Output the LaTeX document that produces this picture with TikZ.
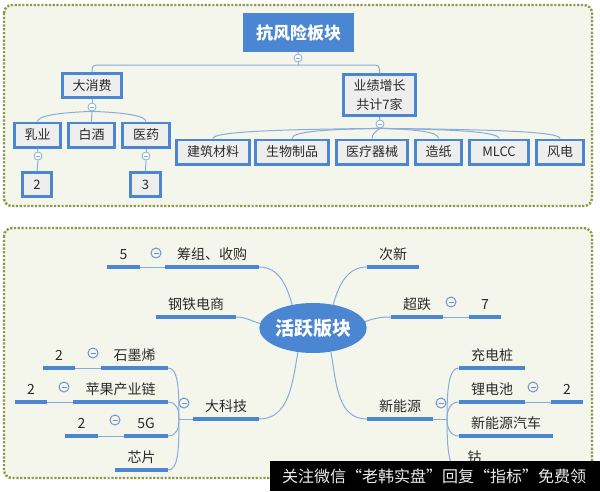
\documentclass[tikz,border=0pt]{standalone}
\usepackage{fontspec}
\setmainfont{Noto Sans CJK SC}
\usetikzlibrary{shapes.geometric}
\definecolor{panelfill}{HTML}{F4F6EC}
\definecolor{dotcol}{HTML}{8C9A45}
\definecolor{mblue}{HTML}{4A86D2}
\definecolor{lblue}{HTML}{86ACDB}
\definecolor{mcol}{HTML}{6F93CF}
\definecolor{boxfill}{HTML}{EEEEEE}
\definecolor{txt}{HTML}{2A2A2A}
\tikzset{
  panel/.style={draw=dotcol, fill=panelfill, line width=2.4pt, dash pattern=on 2.2pt off 1.6pt, rounded corners=8pt},
  tbox/.style={draw=mblue, line width=2.6pt, fill=boxfill, text=txt, font=\fontsize{13}{19}\selectfont, inner sep=0pt, minimum height=24.4pt},
  rootbox/.style={fill=mblue, text=white, font=\bfseries\fontsize{17}{19}\selectfont, inner sep=0pt, minimum width=111pt, minimum height=39pt},
  conn/.style={draw=lblue, line width=1pt},
  mcirc/.style={circle, draw=lblue, fill=white, line width=0.8pt, minimum size=8pt, inner sep=0pt,
    path picture={\draw[lblue,line width=0.8pt] ([xshift=-2pt]path picture bounding box.center) -- ([xshift=2pt]path picture bounding box.center);}},
  bmcirc/.style={circle, draw=mcol, fill=panelfill, line width=1pt, minimum size=10pt, inner sep=0pt,
    path picture={\draw[mcol,line width=1pt] ([xshift=-2.5pt]path picture bounding box.center) -- ([xshift=2.5pt]path picture bounding box.center);}},
  topic/.style={anchor=south, inner xsep=0pt, inner ysep=0pt, text height=12pt, text depth=7.5pt, text=txt, font=\fontsize{14}{16}\selectfont, minimum width=#1},
  uline/.style={draw=mblue, line width=3.5pt},
}
\begin{document}
\begin{tikzpicture}[x=1pt,y=-1pt]
\useasboundingbox (0,0) rectangle (600,491);
\fill[white] (0,0) rectangle (600,491);
% panels
\draw[panel] (4,5) rectangle (592,206);
\draw[panel] (4,228) rectangle (592,478);

% ---------- top tree ----------
\node[rootbox] (root) at (298.5,32.5) {抗风险板块};
\node[mcirc] (m0) at (298,58) {};
\draw[conn] (root.south) -- (m0.north);
\node[tbox, minimum width=59.4pt] (dxf) at (92,85.5) {大消费};
\node[tbox, minimum width=72.4pt, minimum height=41.4pt, align=center] (yj) at (379.5,95) {业绩增长\\共计7家};
\coordinate (h0) at (298,65);
\draw[conn] (m0.south) -- (h0);
\draw[conn, rounded corners=4pt] (dxf.north) |- (h0) -| (yj.north);

\node[mcirc] (m1) at (92,107) {};
\draw[conn] (dxf.south) -- (m1.north);
\node[tbox, minimum width=46.4pt] (ry) at (37.5,135) {乳业};
\node[tbox, minimum width=46.4pt] (bj) at (91.5,135) {白酒};
\node[tbox, minimum width=47.4pt] (yy) at (146,135) {医药};
\draw[conn] (m1.south) .. controls +(-30,1) and +(0,-6) .. (ry.north);
\draw[conn] (m1.south) -- (bj.north);
\draw[conn] (m1.south) .. controls +(30,1) and +(0,-6) .. (yy.north);

\node[mcirc] (m3) at (38,156) {};
\node[mcirc] (m4) at (146,156) {};
\node[tbox, minimum width=29.4pt] (b2) at (37,184.5) {2};
\node[tbox, minimum width=30.4pt] (b3) at (145.5,184.5) {3};
\draw[conn] (ry.south) -- (m3.north);
\draw[conn] (m3.south) -- (b2.north);
\draw[conn] (yy.south) -- (m4.north);
\draw[conn] (m4.south) -- (b3.north);

\node[mcirc] (m2) at (380,124) {};
\draw[conn] (yj.south) -- (m2.north);
\node[tbox, minimum width=73.4pt] (jz) at (213,152) {建筑材料};
\node[tbox, minimum width=73.4pt] (sw) at (292,152) {生物制品};
\node[tbox, minimum width=71.4pt] (yl) at (372,152) {医疗器械};
\node[tbox, minimum width=46.4pt] (zz) at (438.5,152) {造纸};
\node[tbox, minimum width=59.4pt] (ml) at (499,152) {MLCC};
\node[tbox, minimum width=47.4pt] (fd) at (560,152) {风电};
\draw[conn] (m2.south) .. controls +(-100,1) and +(0,-7) .. (jz.north);
\draw[conn] (m2.south) .. controls +(-55,1) and +(0,-7) .. (sw.north);
\draw[conn] (m2.south) .. controls +(-4,3) and +(0,-5) .. (yl.north);
\draw[conn] (m2.south) .. controls +(35,1) and +(0,-7) .. (zz.north);
\draw[conn] (m2.south) .. controls +(70,1) and +(0,-7) .. (ml.north);
\draw[conn] (m2.south) .. controls +(110,1) and +(0,-7) .. (fd.north);

% ---------- bottom mind map ----------
\node[ellipse, fill=mblue, minimum width=100pt, minimum height=50pt, inner sep=0pt, text=white,
  font=\bfseries\fontsize{19}{21}\selectfont] (el) at (313,328) {活跃版块};

\node[topic=94pt] (cz) at (212,267) {筹组、收购};
\node[topic=33pt] (n5) at (123.5,267) {5};
\node[bmcirc] (mc1) at (156,253) {};
\node[topic=80pt] (gt) at (196,317) {钢铁电商};
\node[topic=52pt] (cx) at (393,267) {次新};
\node[topic=52pt] (cd) at (417,317) {超跌};
\node[topic=32pt] (n7) at (485,317) {7};
\node[bmcirc] (mc2) at (451,302) {};

\node[topic=66pt] (dkj) at (226,419) {大科技};
\node[bmcirc] (mc6) at (184,403) {};
\node[topic=67pt] (sm) at (134.5,368) {石墨烯};
\node[topic=32pt] (n2a) at (59,368) {2};
\node[bmcirc] (mc3) at (93,353) {};
\node[topic=95pt] (pg) at (120.5,402) {苹果产业链};
\node[topic=32pt] (n2b) at (31,402) {2};
\node[bmcirc] (mc4) at (64,387) {};
\node[topic=44pt] (g5) at (146,436) {5G};
\node[topic=33pt] (n2c) at (81.5,436) {2};
\node[bmcirc] (mc5) at (115,420) {};
\node[topic=53pt] (xp) at (141.5,470) {芯片};

\node[topic=66pt] (xny) at (400,419) {新能源};
\node[bmcirc] (mc7) at (441,403) {};
\node[topic=66pt] (cdz) at (492,368) {充电桩};
\node[topic=66pt] (ldc) at (492,402) {锂电池};
\node[topic=32pt] (n2d) at (567,402) {2};
\node[bmcirc] (mc8) at (533,387) {};
\node[topic=94pt] (qc) at (506,436) {新能源汽车};
\node[topic=31pt] (gu) at (474.5,470) {钴};

% connectors
\draw[conn] (cz.south east) to[out=0,in=105] (el.132);
\draw[conn] (gt.south east) to[out=0,in=165] (el.175);
\draw[conn] (el.49) to[out=75,in=180] (cx.south west);
\draw[conn] (el.7) to[out=20,in=180] (cd.south west);
\draw[conn] (el.238) to[out=-100,in=0] (dkj.south east);
\draw[conn] (el.307) to[out=-80,in=180] (xny.south west);

\draw[conn] (n5.south east) -- (cz.south west);
\draw[conn] (cd.south east) -- (n7.south west);
\draw[conn] (n2a.south east) -- (sm.south west);
\draw[conn] (n2b.south east) -- (pg.south west);
\draw[conn] (n2c.south east) -- (g5.south west);
\draw[conn] (ldc.south east) -- (n2d.south west);

\coordinate (j1) at (179,419);
\draw[conn] (dkj.south west) -- (j1);
\draw[conn] (sm.south east) .. controls +(10,0) and +(0,-30) .. (j1);
\draw[conn] (pg.south east) .. controls +(8,0) and +(0,-10) .. (j1);
\draw[conn] (g5.south east) .. controls +(8,0) and +(0,10) .. (j1);
\draw[conn] (xp.south east) .. controls +(10,0) and +(0,30) .. (j1);

\coordinate (j2) at (447,419);
\draw[conn] (xny.south east) -- (j2);
\draw[conn] (j2) .. controls +(0,-30) and +(-10,0) .. (cdz.south west);
\draw[conn] (j2) .. controls +(0,-10) and +(-8,0) .. (ldc.south west);
\draw[conn] (j2) .. controls +(0,10) and +(-8,0) .. (qc.south west);
\draw[conn] (j2) .. controls +(0,30) and +(-10,0) .. (gu.south west);

\foreach \n in {cz,n5,gt,cx,cd,n7,dkj,sm,n2a,pg,n2b,g5,n2c,xp,xny,cdz,ldc,n2d,qc,gu}
  \draw[uline] (\n.south west) -- (\n.south east);

% watermark bar
\fill[black] (270,461) rectangle (600,491);
\node[text=white!92!black, font=\fontsize{16}{18}\selectfont, inner sep=0pt] (wm) at (434,476) {关注微信“老韩实盘”回复“指标”免费领};
\end{tikzpicture}
\end{document}
